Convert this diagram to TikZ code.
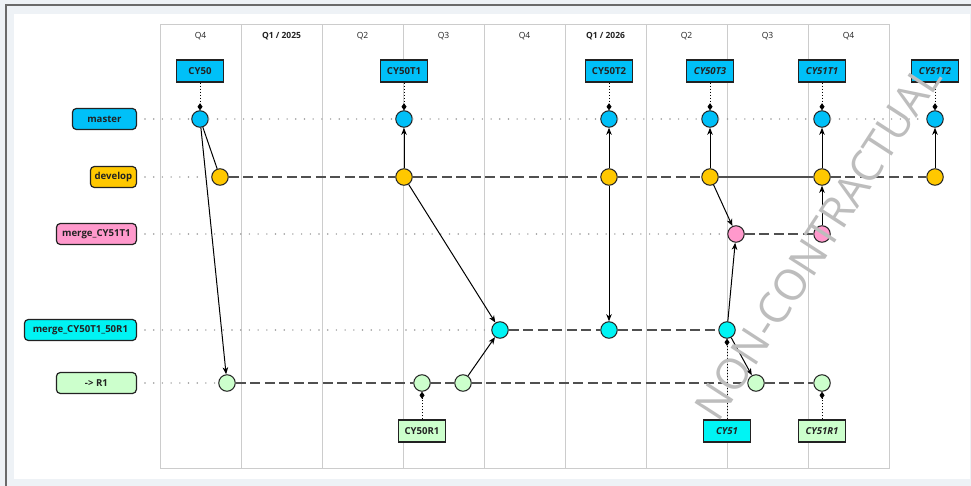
\documentclass[tikz,border=0pt]{standalone}
\usepackage{fontspec}
\setmainfont{Open Sans}
\usetikzlibrary{arrows.meta}

\definecolor{pagebg}{HTML}{EEF2F6}
\definecolor{frameline}{HTML}{6A6A6A}
\definecolor{gridgray}{HTML}{CCCCCC}
\definecolor{rowdots}{HTML}{999999}
\definecolor{branchline}{HTML}{505050}
\definecolor{inkdark}{HTML}{222222}
\definecolor{cMaster}{HTML}{00C0F8}
\definecolor{cDevelop}{HTML}{FFC800}
\definecolor{cPink}{HTML}{FF99CC}
\definecolor{cCyan}{HTML}{00F4F4}
\definecolor{cGreen}{HTML}{CCFFCC}
\definecolor{wmark}{HTML}{BDBDBD}

\tikzset{
  gridline/.style={draw=gridgray, line width=1pt},
  hdr/.style={font=\fontsize{8.5}{9}\selectfont, text=inkdark, inner sep=0pt},
  hdrbold/.style={hdr, font=\fontsize{8.5}{9}\selectfont\bfseries},
  branchbox/.style={draw=inkdark, line width=1.2pt, rounded corners=4pt,
    minimum height=21pt, inner sep=2pt, anchor=east, text=inkdark,
    font=\fontsize{9.6}{10}\selectfont\bfseries},
  commit/.style={circle, draw=inkdark, line width=1pt, minimum size=16.5pt, inner sep=0pt},
  tagbox/.style={draw=inkdark, line width=1.2pt, minimum width=47pt, minimum height=22pt,
    inner sep=2pt, text=inkdark, font=\fontsize{9.6}{10}\selectfont\bfseries},
  tagital/.style={tagbox, font=\fontsize{9.6}{10}\selectfont\bfseries\itshape},
  rowdotted/.style={draw=rowdots, line width=1.6pt, line cap=round, dash pattern=on 0pt off 8.7pt},
  branchdash/.style={draw=branchline, line width=1.6pt, dash pattern=on 10pt off 4.5pt},
  branchsolid/.style={draw=branchline, line width=1.6pt},
  flow/.style={draw=black, line width=1pt, -{Stealth[length=7pt,width=5.5pt,inset=2pt]}},
  flowplain/.style={draw=black, line width=1pt},
  taglink/.style={draw=black, line width=0.8pt, dash pattern=on 1pt off 2pt,
    -{Diamond[length=7pt,width=5pt]}},
}

\begin{document}
\begin{tikzpicture}[x=1pt,y=-1pt]
\useasboundingbox (0,0) rectangle (971,486);

% page frame
\fill[pagebg] (0,0) rectangle (971,486);
\fill[white] (14,14) rectangle (970,479);
\draw[frameline, line width=2pt] (6,486) -- (6,5) -- (971,5);

% quarter grid
\draw[gridline] (160,25) rectangle (889,468);
\foreach \gx in {241,322,403,484,565,646,727,808}
  \draw[gridline] (\gx,25) -- (\gx,468);

% quarter headers
\node[hdr]     (q1) at (200.5,36) {Q4};
\node[hdrbold] (q2) at (281.5,36) {Q1 / 2025};
\node[hdr]     (q3) at (362.5,36) {Q2};
\node[hdr]     (q4) at (443.5,36) {Q3};
\node[hdr]     (q5) at (524.5,36) {Q4};
\node[hdrbold] (q6) at (605.5,36) {Q1 / 2026};
\node[hdr]     (q7) at (686.5,36) {Q2};
\node[hdr]     (q8) at (767.5,36) {Q3};
\node[hdr]     (q9) at (848.5,36) {Q4};

% branch labels
\node[branchbox, fill=cMaster,  minimum width=64pt]  (lbMaster)  at (137,119) {master};
\node[branchbox, fill=cDevelop, minimum width=46pt]  (lbDevelop) at (137,177) {develop};
\node[branchbox, fill=cPink,    minimum width=80pt]  (lbPink)    at (137,234) {merge\_CY51T1};
\node[branchbox, fill=cCyan,    minimum width=112pt] (lbCyan)    at (137,330) {merge\_CY50T1\_50R1};
\node[branchbox, fill=cGreen,   minimum width=80pt]  (lbGreen)   at (137,383) {-> R1};

% row start points
\coordinate (Lm) at (145,119);
\coordinate (Ld) at (145,177);
\coordinate (Lp) at (145,234);
\coordinate (Lc) at (145,330);
\coordinate (Lr) at (145,383);

% commits
\node[commit, fill=cMaster] (m1) at (200,119) {};
\node[commit, fill=cMaster] (m2) at (404,119) {};
\node[commit, fill=cMaster] (m3) at (609,119) {};
\node[commit, fill=cMaster] (m4) at (710,119) {};
\node[commit, fill=cMaster] (m5) at (822,119) {};
\node[commit, fill=cMaster] (m6) at (935,119) {};

\node[commit, fill=cDevelop] (d1) at (220,177) {};
\node[commit, fill=cDevelop] (d2) at (404,177) {};
\node[commit, fill=cDevelop] (d3) at (609,177) {};
\node[commit, fill=cDevelop] (d4) at (710,177) {};
\node[commit, fill=cDevelop] (d5) at (822,177) {};
\node[commit, fill=cDevelop] (d6) at (935,177) {};

\node[commit, fill=cPink] (p1) at (736,234) {};
\node[commit, fill=cPink] (p2) at (822,234) {};

\node[commit, fill=cCyan] (c1) at (500,330) {};
\node[commit, fill=cCyan] (c2) at (609,330) {};
\node[commit, fill=cCyan] (c3) at (727,330) {};

\node[commit, fill=cGreen] (r1) at (227,383) {};
\node[commit, fill=cGreen] (r2) at (422,383) {};
\node[commit, fill=cGreen] (r3) at (463,383) {};
\node[commit, fill=cGreen] (r4) at (756,383) {};
\node[commit, fill=cGreen] (r5) at (822,383) {};

% tags
\node[tagbox, fill=cMaster] (t1) at (200,71) {CY50};
\node[tagbox, fill=cMaster] (t2) at (404,71) {CY50T1};
\node[tagbox, fill=cMaster] (t3) at (609,71) {CY50T2};
\node[tagital, fill=cMaster] (t4) at (710,71) {CY50T3};
\node[tagital, fill=cMaster] (t5) at (822,71) {CY51T1};
\node[tagital, fill=cMaster] (t6) at (935,71) {CY51T2};

\node[tagbox, fill=cGreen] (b1) at (422,431) {CY50R1};
\node[tagital, fill=cCyan] (b2) at (727,431) {CY51};
\node[tagital, fill=cGreen] (b3) at (822,431) {CY51R1};

% branch rows
\draw[rowdotted] (Lm) -- (m1) -- (m2) -- (m3) -- (m4) -- (m5) -- (m6);
\draw[rowdotted] (Ld) -- (d1);
\draw[rowdotted] (Lp) -- (p1);
\draw[rowdotted] (Lc) -- (c1);
\draw[rowdotted] (Lr) -- (r1);

\draw[branchdash] (d1) -- (d2) -- (d3) -- (d4);
\draw[branchsolid] (d4) -- (d5);
\draw[branchdash] (d5) -- (d6);
\draw[branchdash] (p1) -- (p2);
\draw[branchdash] (c1) -- (c2) -- (c3);
\draw[branchdash] (r1) -- (r2) -- (r3) -- (r4) -- (r5);

% merges and branch-offs
\draw[flowplain] (m1) -- (d1);
\draw[flow] (m1) -- (r1);
\draw[flow] (d2) -- (m2);
\draw[flow] (d2) -- (c1);
\draw[flow] (r3) -- (c1);
\draw[flow] (d3) -- (m3);
\draw[flow] (d3) -- (c2);
\draw[flow] (d4) -- (m4);
\draw[flow] (d4) -- (p1);
\draw[flow] (c3) -- (p1);
\draw[flow] (c3) -- (r4);
\draw[flow] (p2) -- (d5);
\draw[flow] (d5) -- (m5);
\draw[flow] (d6) -- (m6);

% tag links
\draw[taglink] (t1.south) -- (m1);
\draw[taglink] (t2.south) -- (m2);
\draw[taglink] (t3.south) -- (m3);
\draw[taglink] (t4.south) -- (m4);
\draw[taglink] (t5.south) -- (m5);
\draw[taglink] (t6.south) -- (m6);
\draw[taglink] (b1.north) -- (r2);
\draw[taglink] (b2.north) -- (c3);
\draw[taglink] (b3.north) -- (r5);

% watermark
\node[rotate=57, text=wmark, inner sep=0pt, font=\fontsize{43}{43}\selectfont] (wm) at (818,242) {NON-CONTRACTUAL};
\end{tikzpicture}
\end{document}
